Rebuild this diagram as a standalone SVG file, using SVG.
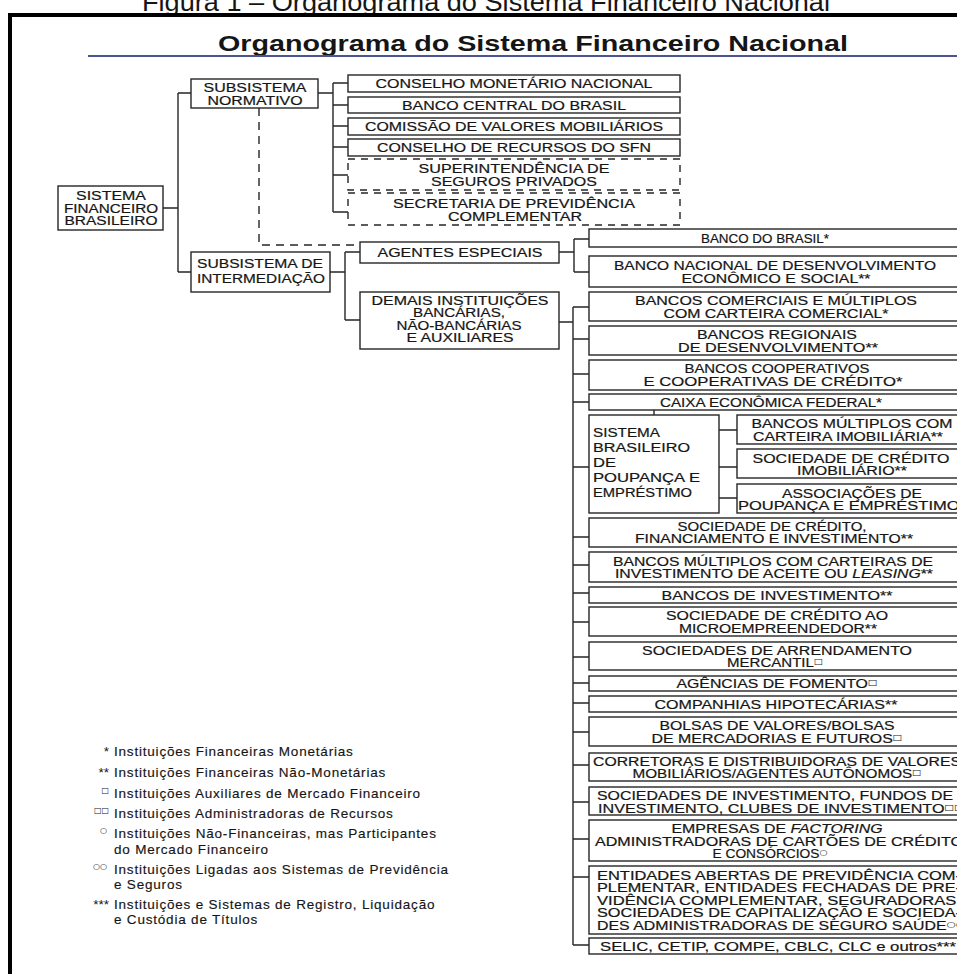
<svg xmlns="http://www.w3.org/2000/svg" width="957" height="974" viewBox="0 0 957 974">
<style>
.box{fill:#fff;stroke:#262626;stroke-width:1.4}
.dbox{fill:#fff;stroke:#262626;stroke-width:1.4;stroke-dasharray:7 6}
.ln{fill:none;stroke:#262626;stroke-width:1.4}
.dl{fill:none;stroke:#262626;stroke-width:1.4;stroke-dasharray:8 6}
text{font-family:"Liberation Sans",Arial,"DejaVu Sans",sans-serif;fill:#151515}
.t{font-size:12.5px;text-anchor:middle;stroke:#151515;stroke-width:0.2}
.tl{font-size:12.5px;text-anchor:start;stroke:#151515;stroke-width:0.2}
.s12{font-size:12px}
.lg{font-size:13.5px;text-anchor:start;letter-spacing:0.8px;stroke:#151515;stroke-width:0.15}
.ls{font-size:13.5px;text-anchor:end}
.sym{font-size:8px;font-family:"DejaVu Sans",sans-serif;stroke-width:0}
.it{font-style:italic}
</style>
<rect x="0" y="0" width="957" height="974" fill="#fff"/>
<g id="caption">
<text x="486" y="11" font-size="26" text-anchor="middle" textLength="688" lengthAdjust="spacingAndGlyphs">Figura 1 – Organograma do Sistema Financeiro Nacional</text>
</g>
<g id="frame">
<path d="M10,974 V15 H960" fill="none" stroke="#000" stroke-width="4"/>
</g>
<g id="title">
<text x="533" y="51" font-size="22" font-weight="bold" text-anchor="middle" textLength="630" lengthAdjust="spacingAndGlyphs">Organograma do Sistema Financeiro Nacional</text>
<line x1="88" y1="56" x2="957" y2="56" stroke="#4b5592" stroke-width="2"/>
</g>

<g id="connectors">
<path class="ln" d="M163,208 H178 M178,93 V272 M178,93 H191 M178,272 H191"/>
<path class="ln" d="M318,93 H333 M333,83 V212 M333,83 H348 M333,105 H348 M333,126 H348 M333,147 H348 M333,175 H348 M333,212 H348"/>
<path class="dl" d="M259,108 V245 H360"/>
<path class="ln" d="M330,272 H345 M345,252 V320 M345,252 H360 M345,320 H360"/>
<path class="ln" d="M559,252 H574 M574,239 V272 M574,239 H589 M574,272 H589"/>
<path class="ln" d="M559,322 H573 M573,307 V945 M573,307 H589 M573,339 H589 M573,374 H589 M573,402 H589 M573,467 H589 M573,537 H589 M573,565 H589 M573,593 H589 M573,622 H589 M573,657 H589 M573,683 H589 M573,703 H589 M573,732 H589 M573,765 H589 M573,802 H589 M573,839 H589 M573,877 H589 M573,945 H589"/>
<path class="ln" d="M719,430 H737 M719,467 H737 M719,498 H737 M654,410 V415"/>
</g>

<g id="sfb"><rect class="box" x="58" y="186" width="105" height="44"/>
<text class="t" x="111" y="200" textLength="70" lengthAdjust="spacingAndGlyphs">SISTEMA</text>
<text class="t" x="111" y="212.5" textLength="94" lengthAdjust="spacingAndGlyphs">FINANCEIRO</text>
<text class="t" x="111" y="225" textLength="93" lengthAdjust="spacingAndGlyphs">BRASILEIRO</text></g>

<g id="sn"><rect class="box" x="191" y="79" width="127" height="29"/>
<text class="t" x="255" y="92" textLength="103" lengthAdjust="spacingAndGlyphs">SUBSISTEMA</text>
<text class="t" x="255" y="104.5" textLength="95" lengthAdjust="spacingAndGlyphs">NORMATIVO</text></g>

<g id="si"><rect class="box" x="191" y="252" width="139" height="40"/>
<text class="t" x="260" y="268" textLength="126" lengthAdjust="spacingAndGlyphs">SUBSISTEMA DE</text>
<text class="t" x="261" y="282.5" textLength="128" lengthAdjust="spacingAndGlyphs">INTERMEDIAÇÃO</text></g>

<g id="cmn"><rect class="box" x="348" y="75" width="332" height="17"/>
<text class="t" x="514" y="88" textLength="277" lengthAdjust="spacingAndGlyphs">CONSELHO MONETÁRIO NACIONAL</text></g>
<g id="bcb"><rect class="box" x="348" y="97" width="332" height="16"/>
<text class="t" x="514" y="109.5" textLength="224" lengthAdjust="spacingAndGlyphs">BANCO CENTRAL DO BRASIL</text></g>
<g id="cvm"><rect class="box" x="348" y="118" width="332" height="17"/>
<text class="t" x="514" y="131" textLength="298" lengthAdjust="spacingAndGlyphs">COMISSÃO DE VALORES MOBILIÁRIOS</text></g>
<g id="crsfn"><rect class="box" x="348" y="139" width="332" height="17"/>
<text class="t" x="514" y="152" textLength="274" lengthAdjust="spacingAndGlyphs">CONSELHO DE RECURSOS DO SFN</text></g>
<g id="susep"><rect class="dbox" x="348" y="159" width="332" height="31"/>
<text class="t" x="514" y="172.5" textLength="191" lengthAdjust="spacingAndGlyphs">SUPERINTENDÊNCIA DE</text>
<text class="t" x="514" y="185.5" textLength="166" lengthAdjust="spacingAndGlyphs">SEGUROS PRIVADOS</text></g>
<g id="previc"><rect class="dbox" x="348" y="193" width="332" height="32"/>
<text class="t" x="514" y="207.5" textLength="242" lengthAdjust="spacingAndGlyphs">SECRETARIA DE PREVIDÊNCIA</text>
<text class="t" x="515" y="220.5" textLength="134" lengthAdjust="spacingAndGlyphs">COMPLEMENTAR</text></g>

<g id="ae"><rect class="box" x="360" y="242" width="199" height="21"/>
<text class="t" x="460" y="257" textLength="165" lengthAdjust="spacingAndGlyphs">AGENTES ESPECIAIS</text></g>
<g id="di"><rect class="box" x="360" y="292" width="199" height="57"/>
<text class="t" x="460" y="304.5" textLength="177" lengthAdjust="spacingAndGlyphs">DEMAIS INSTITUIÇÕES</text>
<text class="t" x="459" y="317" textLength="92" lengthAdjust="spacingAndGlyphs">BANCÁRIAS,</text>
<text class="t" x="459" y="329.5" textLength="125" lengthAdjust="spacingAndGlyphs">NÃO-BANCÁRIAS</text>
<text class="t" x="460" y="342" textLength="107" lengthAdjust="spacingAndGlyphs">E AUXILIARES</text></g>

<g id="bb"><rect class="box" x="589" y="229" width="376" height="18"/>
<text class="t" x="765" y="242.5" textLength="128" lengthAdjust="spacingAndGlyphs">BANCO DO BRASIL*</text></g>
<g id="bndes"><rect class="box" x="589" y="256" width="376" height="31"/>
<text class="t" x="775" y="269.5" textLength="322" lengthAdjust="spacingAndGlyphs">BANCO NACIONAL DE DESENVOLVIMENTO</text>
<text class="t" x="776" y="283" textLength="189" lengthAdjust="spacingAndGlyphs">ECONÔMICO E SOCIAL**</text></g>
<g id="bcm"><rect class="box" x="589" y="292" width="376" height="29"/>
<text class="t" x="776" y="305" textLength="282" lengthAdjust="spacingAndGlyphs">BANCOS COMERCIAIS E MÚLTIPLOS</text>
<text class="t" x="776" y="317.5" textLength="225" lengthAdjust="spacingAndGlyphs">COM CARTEIRA COMERCIAL*</text></g>
<g id="brd"><rect class="box" x="589" y="326" width="376" height="29"/>
<text class="t" x="777" y="339" textLength="160" lengthAdjust="spacingAndGlyphs">BANCOS REGIONAIS</text>
<text class="t" x="778" y="351.5" textLength="200" lengthAdjust="spacingAndGlyphs">DE DESENVOLVIMENTO**</text></g>
<g id="bcoop"><rect class="box" x="589" y="360" width="376" height="30"/>
<text class="t" x="777" y="373" textLength="185" lengthAdjust="spacingAndGlyphs">BANCOS COOPERATIVOS</text>
<text class="t" x="773" y="386" textLength="259" lengthAdjust="spacingAndGlyphs">E COOPERATIVAS DE CRÉDITO*</text></g>
<g id="cef"><rect class="box" x="589" y="394" width="376" height="16"/>
<text class="t" x="771" y="406.5" textLength="222" lengthAdjust="spacingAndGlyphs">CAIXA ECONÔMICA FEDERAL*</text></g>

<g id="sbpe"><rect class="box" x="589" y="415" width="130" height="98"/>
<text class="tl" x="593" y="437" textLength="67" lengthAdjust="spacingAndGlyphs">SISTEMA</text>
<text class="tl" x="593" y="452" textLength="97" lengthAdjust="spacingAndGlyphs">BRASILEIRO</text>
<text class="tl" x="593" y="467" textLength="23" lengthAdjust="spacingAndGlyphs">DE</text>
<text class="tl" x="593" y="482" textLength="107" lengthAdjust="spacingAndGlyphs">POUPANÇA E</text>
<text class="tl" x="593" y="497" textLength="99" lengthAdjust="spacingAndGlyphs">EMPRÉSTIMO</text></g>
<g id="bmci"><rect class="box" x="737" y="415" width="230" height="29"/>
<text class="t" x="852" y="428" textLength="201" lengthAdjust="spacingAndGlyphs">BANCOS MÚLTIPLOS COM</text>
<text class="t" x="848" y="441" textLength="190" lengthAdjust="spacingAndGlyphs">CARTEIRA IMOBILIÁRIA**</text></g>
<g id="sci"><rect class="box" x="737" y="449" width="230" height="29"/>
<text class="t" x="851" y="462.5" textLength="197" lengthAdjust="spacingAndGlyphs">SOCIEDADE DE CRÉDITO</text>
<text class="t" x="852" y="475" textLength="110" lengthAdjust="spacingAndGlyphs">IMOBILIÁRIO**</text></g>
<g id="ape"><rect class="box" x="737" y="484" width="230" height="29"/>
<text class="t" x="852" y="497.5" textLength="140" lengthAdjust="spacingAndGlyphs">ASSOCIAÇÕES DE</text>
<text class="t" x="852" y="510" textLength="228" lengthAdjust="spacingAndGlyphs">POUPANÇA E EMPRÉSTIMO*</text></g>

<g id="scfi"><rect class="box" x="589" y="518" width="376" height="29"/>
<text class="t" x="772" y="530.5" textLength="189" lengthAdjust="spacingAndGlyphs">SOCIEDADE DE CRÉDITO,</text>
<text class="t" x="774" y="543" textLength="278" lengthAdjust="spacingAndGlyphs">FINANCIAMENTO E INVESTIMENTO**</text></g>
<g id="bmcal"><rect class="box" x="589" y="552" width="376" height="30"/>
<text class="t" x="773" y="565.5" textLength="320" lengthAdjust="spacingAndGlyphs">BANCOS MÚLTIPLOS COM CARTEIRAS DE</text>
<text class="t" x="774" y="578" textLength="318" lengthAdjust="spacingAndGlyphs">INVESTIMENTO DE ACEITE OU <tspan class="it">LEASING</tspan>**</text></g>
<g id="bi"><rect class="box" x="589" y="587" width="376" height="16"/>
<text class="t" x="777" y="599.5" textLength="231" lengthAdjust="spacingAndGlyphs">BANCOS DE INVESTIMENTO**</text></g>
<g id="scm"><rect class="box" x="589" y="607" width="376" height="29"/>
<text class="t" x="777" y="620" textLength="222" lengthAdjust="spacingAndGlyphs">SOCIEDADE DE CRÉDITO AO</text>
<text class="t" x="778" y="632.5" textLength="198" lengthAdjust="spacingAndGlyphs">MICROEMPREENDEDOR**</text></g>
<g id="sam"><rect class="box" x="589" y="642" width="376" height="28"/>
<text class="t" x="777" y="654.5" textLength="270" lengthAdjust="spacingAndGlyphs">SOCIEDADES DE ARRENDAMENTO</text>
<text class="t" x="775" y="667" textLength="96" lengthAdjust="spacingAndGlyphs">MERCANTIL<tspan class="sym" dy="-3">□</tspan></text></g>
<g id="af"><rect class="box" x="589" y="676" width="376" height="15"/>
<text class="t" x="777" y="688" textLength="201" lengthAdjust="spacingAndGlyphs">AGÊNCIAS DE FOMENTO<tspan class="sym" dy="-3">□</tspan></text></g>
<g id="ch"><rect class="box" x="589" y="696" width="376" height="16"/>
<text class="t" x="776" y="708.5" textLength="243" lengthAdjust="spacingAndGlyphs">COMPANHIAS HIPOTECÁRIAS**</text></g>
<g id="bv"><rect class="box" x="589" y="717" width="376" height="29"/>
<text class="t" x="777" y="730" textLength="235" lengthAdjust="spacingAndGlyphs">BOLSAS DE VALORES/BOLSAS</text>
<text class="t" x="777" y="742.5" textLength="251" lengthAdjust="spacingAndGlyphs">DE MERCADORIAS E FUTUROS<tspan class="sym" dy="-3">□</tspan></text></g>
<g id="cd"><rect class="box" x="589" y="753" width="376" height="28"/>
<text class="tl" x="593" y="765.5" textLength="368" lengthAdjust="spacingAndGlyphs">CORRETORAS E DISTRIBUIDORAS DE VALORES</text>
<text class="t" x="777" y="778" textLength="289" lengthAdjust="spacingAndGlyphs">MOBILIÁRIOS/AGENTES AUTÔNOMOS<tspan class="sym" dy="-3">□</tspan></text></g>
<g id="sinv"><rect class="box" x="589" y="787" width="376" height="28"/>
<text class="tl" x="597" y="800" textLength="356" lengthAdjust="spacingAndGlyphs">SOCIEDADES DE INVESTIMENTO, FUNDOS DE</text>
<text class="tl" x="598" y="812.5" textLength="366" lengthAdjust="spacingAndGlyphs">INVESTIMENTO, CLUBES DE INVESTIMENTO<tspan class="sym" dy="-3">□□</tspan></text></g>
<g id="ef"><rect class="box" x="589" y="820" width="376" height="41"/>
<text class="t s12" x="777" y="833" textLength="211" lengthAdjust="spacingAndGlyphs">EMPRESAS DE <tspan class="it">FACTORING</tspan></text>
<text class="tl s12" x="595" y="845.5" textLength="368" lengthAdjust="spacingAndGlyphs">ADMINISTRADORAS DE CARTÕES DE CRÉDITO</text>
<text class="t s12" x="770" y="858" textLength="115" lengthAdjust="spacingAndGlyphs">E CONSÓRCIOS<tspan class="sym" dy="-3">○</tspan></text></g>
<g id="eap"><rect class="box" x="589" y="866" width="376" height="68"/>
<text class="tl s12" x="597" y="879.5" textLength="364" lengthAdjust="spacingAndGlyphs">ENTIDADES ABERTAS DE PREVIDÊNCIA COM-</text>
<text class="tl s12" x="597" y="892" textLength="364" lengthAdjust="spacingAndGlyphs">PLEMENTAR, ENTIDADES FECHADAS DE PRE-</text>
<text class="tl s12" x="597" y="904.5" textLength="364" lengthAdjust="spacingAndGlyphs">VIDÊNCIA COMPLEMENTAR, SEGURADORAS,</text>
<text class="tl s12" x="597" y="917" textLength="364" lengthAdjust="spacingAndGlyphs">SOCIEDADES DE CAPITALIZAÇÃO E SOCIEDA-</text>
<text class="tl s12" x="597" y="929.5" textLength="368" lengthAdjust="spacingAndGlyphs">DES ADMINISTRADORAS DE SEGURO SAÚDE<tspan class="sym" dy="-3">○○</tspan></text></g>
<g id="selic"><rect class="box" x="589" y="938" width="376" height="16"/>
<text class="tl" x="600" y="950.5" textLength="356" lengthAdjust="spacingAndGlyphs">SELIC, CETIP, COMPE, CBLC, CLC e outros***</text></g>

<g id="legend">
<text class="ls" x="109" y="756">*</text>
<text class="lg" x="114" y="756">Instituições Financeiras Monetárias</text>
<text class="ls" x="109" y="777">**</text>
<text class="lg" x="114" y="777">Instituições Financeiras Não-Monetárias</text>
<text class="ls sym" x="109" y="793">□</text>
<text class="lg" x="114" y="798">Instituições Auxiliares de Mercado Financeiro</text>
<text class="ls sym" x="109" y="813">□□</text>
<text class="lg" x="114" y="818">Instituições Administradoras de Recursos</text>
<text class="ls sym" x="107" y="833">○</text>
<text class="lg" x="114" y="838">Instituições Não-Financeiras, mas Participantes</text>
<text class="lg" x="114" y="854">do Mercado Financeiro</text>
<text class="ls sym" x="107" y="869">○○</text>
<text class="lg" x="114" y="874">Instituições Ligadas aos Sistemas de Previdência</text>
<text class="lg" x="114" y="889">e Seguros</text>
<text class="ls" x="109" y="909">***</text>
<text class="lg" x="114" y="909">Instituições e Sistemas de Registro, Liquidação</text>
<text class="lg" x="114" y="924">e Custódia de Títulos</text>
</g>
</svg>
